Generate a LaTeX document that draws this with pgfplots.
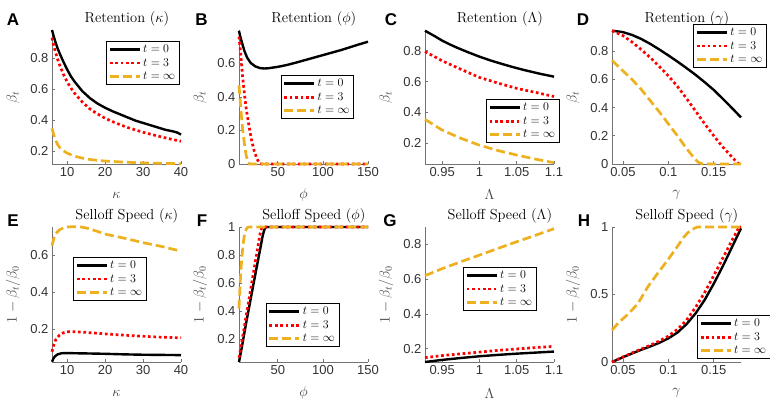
\documentclass[border=0pt]{standalone}
\usepackage{pgfplots}
\pgfplotsset{compat=1.18}
\usepackage{fontspec}
\newfontfamily\hv{Liberation Sans}
\definecolor{myyel}{rgb}{0.929,0.694,0.125}
\definecolor{axgray}{gray}{0.45}
\definecolor{tickgray}{gray}{0.2}
\pgfplotsset{
 panel/.style={
  scale only axis, width=129pt, height=134pt,
  axis lines*=left,
  axis line style={axgray, line width=0.6pt},
  tick align=inside, major tick length=2.5pt,
  every tick/.style={axgray, line width=0.6pt},
  ticklabel style={font=\hv\fontsize{13}{15}\selectfont, text=tickgray},
  /pgf/number format/fixed, /pgf/number format/precision=3,
  /pgf/number format/assume math mode=true,
  scaled ticks=false,
  clip=false,
  every axis y label/.style={at={(axis description cs:-0.302,0.5)}, rotate=90, anchor=center, font=\fontsize{14}{16}\selectfont, text=black!75},
  every axis x label/.style={at={(axis description cs:0.5,-0.231)}, anchor=center, font=\fontsize{14}{16}\selectfont, text=black!75},
  every axis title/.style={at={(axis description cs:0.58,1.082)}, anchor=center, font=\fontsize{14.5}{17}\selectfont},
  legend style={draw=black, line width=0.6pt, fill=white, font=\fontsize{12}{13}\selectfont, inner xsep=2pt, inner ysep=1.5pt, row sep=0.5pt, anchor=north west},
  legend cell align=left,
  legend image code/.code={\draw[##1] (0pt,0pt) -- (30pt,0pt);},
 },
 c0/.style={black, line width=2.4pt},
 c3/.style={red, line width=2.7pt, dash pattern=on 2.7pt off 2.7pt},
 cinf/.style={myyel, line width=2.7pt, dash pattern=on 9pt off 4pt},
}
\begin{document}
\begin{tikzpicture}
\useasboundingbox (0pt,0pt) rectangle (770pt,403pt);
% ---------- A
\begin{axis}[panel, at={(52pt,239pt)}, anchor=south west,
 xmin=6, xmax=40, ymin=0.115, ymax=0.98,
 xtick={10,20,30,40}, ytick={0.2,0.4,0.6,0.8},
 title={Retention ($\kappa$)}, xlabel={$\kappa$}, ylabel={$\beta_t$},
 legend style={at={(0.42,0.918)}}]
\addplot[c0] coordinates {(6,0.98) (6.5,0.935) (7,0.895) (7.5,0.86) (8,0.83) (9,0.775) (10,0.725) (11,0.68) (12,0.645) (14,0.585) (16,0.54) (18,0.505) (20,0.478) (22,0.455) (24,0.435) (26,0.415) (28,0.395) (30,0.38) (32,0.365) (34,0.35) (36,0.335) (38,0.325) (39,0.318) (40,0.305)};
\addplot[c3] coordinates {(6,0.93) (6.5,0.875) (7,0.83) (7.5,0.79) (8,0.755) (9,0.695) (10,0.645) (11,0.605) (12,0.57) (14,0.515) (16,0.47) (18,0.438) (20,0.41) (22,0.388) (24,0.368) (26,0.35) (28,0.335) (30,0.32) (32,0.307) (34,0.295) (36,0.283) (38,0.272) (40,0.262)};
\addplot[cinf] coordinates {(6,0.345) (6.5,0.3) (7,0.265) (7.5,0.24) (8,0.222) (9,0.2) (10,0.185) (12,0.165) (14,0.153) (16,0.144) (20,0.134) (25,0.127) (30,0.122) (35,0.119) (40,0.117)};
\legend{$t=0$,$t=3$,$t=\infty$}
\end{axis}
% ---------- B
\begin{axis}[panel, at={(239pt,239pt)}, anchor=south west,
 xmin=7, xmax=150, ymin=0, ymax=0.8,
 xtick={50,100,150}, ytick={0,0.2,0.4,0.6},
 title={Retention ($\phi$)}, xlabel={$\phi$}, ylabel={$\beta_t$},
 legend style={at={(0.323,0.664)}}]
\addplot[c0] coordinates {(7,0.795) (8,0.77) (10,0.73) (13,0.675) (16,0.635) (20,0.603) (25,0.583) (30,0.573) (35,0.57) (40,0.572) (50,0.58) (60,0.591) (70,0.605) (80,0.62) (90,0.635) (100,0.65) (110,0.665) (120,0.68) (130,0.697) (140,0.714) (150,0.73)};
\addplot[c3] coordinates {(7,0.76) (9,0.65) (11,0.52) (13,0.42) (15,0.33) (18,0.23) (21,0.14) (24,0.075) (27,0.03) (30,0.003) (32,0) (60,0) (100,0) (150,0)};
\addplot[cinf] coordinates {(7,0.47) (9,0.33) (11,0.21) (13,0.12) (15,0.05) (17,0.01) (19,0) (60,0) (100,0) (150,0)};
\legend{$t=0$,$t=3$,$t=\infty$}
\end{axis}
% ---------- C
\begin{axis}[panel, at={(425pt,239pt)}, anchor=south west,
 xmin=0.927, xmax=1.1, ymin=0.065, ymax=0.935,
 xtick={0.95,1,1.05,1.1}, ytick={0.2,0.4,0.6,0.8},
 title={Retention ($\Lambda$)}, xlabel={$\Lambda$}, ylabel={$\beta_t$},
 legend style={at={(0.473,0.485)}}]
\addplot[c0] coordinates {(0.927,0.93) (0.94,0.895) (0.95,0.866) (0.96,0.842) (0.97,0.82) (0.985,0.79) (1.0,0.762) (1.015,0.737) (1.03,0.715) (1.045,0.694) (1.06,0.675) (1.08,0.652) (1.1,0.632)};
\addplot[c3] coordinates {(0.927,0.795) (0.95,0.735) (0.975,0.68) (1.0,0.627) (1.025,0.59) (1.05,0.556) (1.075,0.53) (1.1,0.503)};
\addplot[cinf] coordinates {(0.927,0.355) (0.95,0.285) (0.975,0.232) (1.0,0.187) (1.025,0.152) (1.05,0.123) (1.075,0.097) (1.1,0.073)};
\legend{$t=0$,$t=3$,$t=\infty$}
\end{axis}
% ---------- D
\begin{axis}[panel, at={(612pt,239pt)}, anchor=south west,
 xmin=0.038, xmax=0.18, ymin=0, ymax=0.95,
 xtick={0.05,0.1,0.15}, ytick={0,0.2,0.4,0.6,0.8},
 title={Retention ($\gamma$)}, xlabel={$\gamma$}, ylabel={$\beta_t$},
 legend style={at={(0.63,1.045)}}]
\addplot[c0] coordinates {(0.038,0.945) (0.05,0.935) (0.06,0.915) (0.07,0.887) (0.08,0.852) (0.09,0.812) (0.1,0.77) (0.11,0.726) (0.12,0.68) (0.13,0.632) (0.14,0.58) (0.15,0.525) (0.16,0.462) (0.17,0.397) (0.18,0.33)};
\addplot[c3] coordinates {(0.038,0.945) (0.05,0.91) (0.06,0.865) (0.07,0.812) (0.08,0.755) (0.09,0.692) (0.1,0.625) (0.11,0.55) (0.12,0.465) (0.13,0.375) (0.14,0.285) (0.15,0.2) (0.16,0.12) (0.17,0.05) (0.175,0.015) (0.178,0)};
\addplot[cinf] coordinates {(0.038,0.735) (0.05,0.66) (0.06,0.6) (0.07,0.53) (0.08,0.45) (0.09,0.37) (0.1,0.285) (0.11,0.2) (0.12,0.11) (0.128,0.045) (0.133,0.012) (0.138,0) (0.18,0)};
\legend{$t=0$,$t=3$,$t=\infty$}
\end{axis}
% ---------- E
\begin{axis}[panel, at={(52pt,41pt)}, anchor=south west, height=135pt,
 xmin=6, xmax=40, ymin=0.025, ymax=0.75,
 xtick={10,20,30,40}, ytick={0.2,0.4,0.6},
 title={Selloff Speed ($\kappa$)}, xlabel={$\kappa$}, ylabel={$1-\beta_t/\beta_0$},
 legend style={at={(0.164,0.778)}}]
\addplot[c0] coordinates {(6,0.026) (6.4,0.045) (6.8,0.056) (7.5,0.066) (8.5,0.072) (10,0.073) (12,0.072) (15,0.071) (20,0.069) (25,0.066) (30,0.064) (35,0.063) (40,0.062)};
\addplot[c3] coordinates {(6,0.08) (6.5,0.12) (7,0.145) (8,0.17) (9,0.182) (10,0.187) (12,0.188) (15,0.184) (20,0.176) (25,0.169) (30,0.163) (35,0.158) (40,0.155)};
\addplot[cinf] coordinates {(6,0.65) (6.5,0.69) (7,0.715) (8,0.735) (9,0.745) (10,0.75) (12,0.752) (14,0.749) (16,0.74) (18,0.726) (20,0.712) (25,0.69) (30,0.666) (35,0.645) (40,0.62)};
\legend{$t=0$,$t=3$,$t=\infty$}
\end{axis}
% ---------- F
\begin{axis}[panel, at={(239pt,41pt)}, anchor=south west, height=135pt,
 xmin=7, xmax=150, ymin=0.04, ymax=1,
 xtick={50,100,150}, ytick={0.2,0.4,0.6,0.8,1},
 title={Selloff Speed ($\phi$)}, xlabel={$\phi$}, ylabel={$1-\beta_t/\beta_0$},
 legend style={at={(0.208,0.437)}}]
\addplot[c0] coordinates {(7,0.04) (10,0.14) (15,0.32) (20,0.49) (25,0.66) (28,0.76) (31,0.86) (33,0.93) (35,0.98) (37,1) (60,1) (100,1) (150,1)};
\addplot[c3] coordinates {(7,0.07) (10,0.18) (15,0.37) (20,0.56) (25,0.75) (28,0.86) (30,0.94) (32,0.99) (34,1) (60,1) (100,1) (150,1)};
\addplot[cinf] coordinates {(7,0.42) (8,0.56) (9,0.68) (10,0.77) (11,0.84) (12,0.9) (13,0.94) (14,0.97) (16,0.995) (18,1) (60,1) (100,1) (150,1)};
\legend{$t=0$,$t=3$,$t=\infty$}
\end{axis}
% ---------- G
\begin{axis}[panel, at={(425pt,41pt)}, anchor=south west, height=135pt,
 xmin=0.927, xmax=1.1, ymin=0.123, ymax=0.9,
 xtick={0.95,1,1.05,1.1}, ytick={0.2,0.4,0.6,0.8},
 title={Selloff Speed ($\Lambda$)}, xlabel={$\Lambda$}, ylabel={$1-\beta_t/\beta_0$},
 legend style={at={(0.295,0.704)}}]
\addplot[c0] coordinates {(0.927,0.123) (0.95,0.135) (0.975,0.146) (1.0,0.156) (1.025,0.164) (1.05,0.171) (1.075,0.177) (1.1,0.183)};
\addplot[c3] coordinates {(0.927,0.148) (0.95,0.16) (0.975,0.17) (1.0,0.18) (1.025,0.19) (1.05,0.198) (1.075,0.206) (1.1,0.213)};
\addplot[cinf] coordinates {(0.927,0.62) (0.95,0.66) (0.975,0.7) (1.0,0.738) (1.025,0.777) (1.05,0.815) (1.075,0.852) (1.1,0.89)};
\legend{$t=0$,$t=3$,$t=\infty$}
\end{axis}
% ---------- H
\begin{axis}[panel, at={(612pt,41pt)}, anchor=south west, height=135pt,
 xmin=0.038, xmax=0.18, ymin=0, ymax=1,
 xtick={0.05,0.1,0.15}, ytick={0,0.5,1},
 title={Selloff Speed ($\gamma$)}, xlabel={$\gamma$}, ylabel={$1-\beta_t/\beta_0$},
 legend style={at={(0.66,0.348)}}]
\addplot[c0] coordinates {(0.038,0) (0.05,0.035) (0.06,0.063) (0.07,0.09) (0.08,0.115) (0.09,0.142) (0.1,0.175) (0.11,0.218) (0.12,0.28) (0.13,0.36) (0.14,0.46) (0.15,0.58) (0.16,0.71) (0.17,0.85) (0.18,0.99)};
\addplot[c3] coordinates {(0.038,0) (0.05,0.037) (0.06,0.067) (0.07,0.095) (0.08,0.124) (0.09,0.155) (0.1,0.192) (0.11,0.242) (0.12,0.31) (0.13,0.405) (0.14,0.515) (0.15,0.64) (0.16,0.77) (0.17,0.9) (0.178,1) (0.18,1)};
\addplot[cinf] coordinates {(0.038,0.236) (0.045,0.29) (0.0525,0.335) (0.06,0.385) (0.0666,0.434) (0.0775,0.558) (0.0884,0.658) (0.0995,0.757) (0.11,0.856) (0.117,0.925) (0.121,0.955) (0.126,0.982) (0.132,1) (0.18,1)};
\legend{$t=0$,$t=3$,$t=\infty$}
\end{axis}
% panel letters
\node[font=\hv\bfseries\fontsize{17}{20}\selectfont] at (13pt,383.5pt) {A};
\node[font=\hv\bfseries\fontsize{17}{20}\selectfont] at (201.5pt,383.5pt) {B};
\node[font=\hv\bfseries\fontsize{17}{20}\selectfont] at (391pt,383.5pt) {C};
\node[font=\hv\bfseries\fontsize{17}{20}\selectfont] at (583pt,383.5pt) {D};
\node[font=\hv\bfseries\fontsize{17}{20}\selectfont] at (13pt,182pt) {E};
\node[font=\hv\bfseries\fontsize{17}{20}\selectfont] at (202pt,182pt) {F};
\node[font=\hv\bfseries\fontsize{17}{20}\selectfont] at (390pt,182pt) {G};
\node[font=\hv\bfseries\fontsize{17}{20}\selectfont] at (584pt,182pt) {H};
\end{tikzpicture}
\end{document}
